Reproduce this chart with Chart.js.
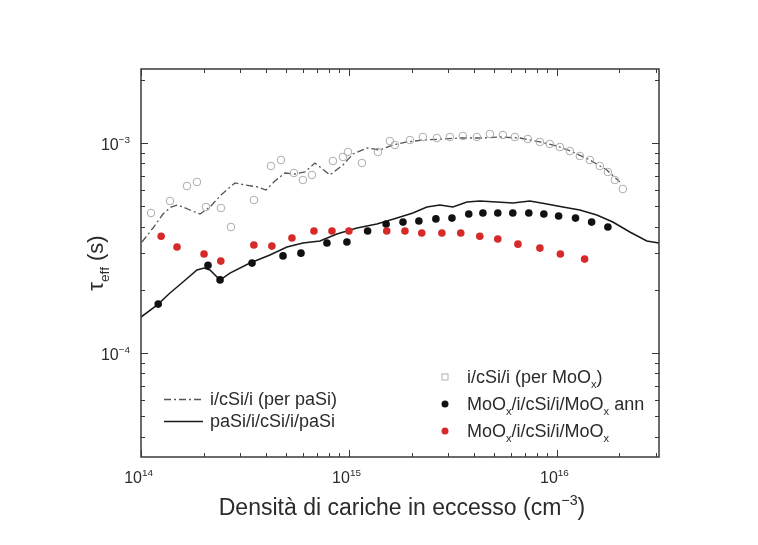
<!DOCTYPE html>
<html>
<head>
<meta charset="utf-8">
<script src="https://cdn.jsdelivr.net/npm/chart.js@4"></script>
<style>
  html, body { margin: 0; padding: 0; background: #fff; }
</style>
</head>
<body>
<canvas id="tauChart" width="758" height="545"></canvas>
<script>
// excess carrier density (cm^-3) and effective lifetime (s)
const xPaSi = [1.00e14, 1.194e14, 1.379e14, 1.592e14, 1.859e14, 2.009e14, 2.147e14, 2.398e14, 2.678e14, 3.342e14,
  4.171e14, 5.034e14, 6.009e14, 7.254e14, 8.756e14, 1.093e15, 1.363e15, 1.702e15, 2.031e15, 2.371e15,
  2.738e15, 3.162e15, 3.693e15, 4.264e15, 5.146e15, 6.145e15, 7.418e15, 8.954e15, 1.069e16, 1.290e16,
  1.557e16, 1.859e16, 2.244e16, 2.709e16, 3.094e16];
const tauPaSi = [1.484e-4, 1.692e-4, 1.931e-4, 2.179e-4, 2.485e-4, 2.540e-4, 2.485e-4, 2.227e-4, 2.404e-4, 2.683e-4,
  2.929e-4, 3.198e-4, 3.341e-4, 3.415e-4, 3.687e-4, 3.937e-4, 4.115e-4, 4.395e-4, 4.642e-4, 4.957e-4,
  5.068e-4, 4.957e-4, 5.236e-4, 5.294e-4, 5.236e-4, 5.179e-4, 5.294e-4, 5.122e-4, 4.957e-4, 4.797e-4,
  4.541e-4, 4.206e-4, 3.769e-4, 3.415e-4, 3.341e-4];

const xRefPaSi = [1.011e14, 1.142e14, 1.276e14, 1.394e14, 1.506e14, 1.720e14, 1.921e14, 2.147e14, 2.425e14, 2.831e14,
  3.162e14, 3.652e14, 3.990e14, 4.408e14, 4.924e14, 5.501e14, 6.145e14, 6.863e14, 8.102e14, 9.359e14,
  1.045e15, 1.221e15, 1.409e15, 1.628e15, 1.900e15, 2.269e15, 2.831e15, 3.418e15, 4.408e15, 5.321e15,
  6.640e15, 8.285e15, 1.000e16, 1.194e16, 1.441e16, 1.739e16, 2.009e16];
const tauRefPaSi = [3.378e-4, 3.937e-4, 4.591e-4, 4.957e-4, 5.068e-4, 4.797e-4, 4.591e-4, 4.957e-4, 5.654e-4, 6.450e-4,
  6.310e-4, 6.173e-4, 5.973e-4, 6.592e-4, 7.197e-4, 7.119e-4, 7.276e-4, 8.031e-4, 7.041e-4, 7.858e-4,
  8.863e-4, 9.467e-4, 9.262e-4, 9.783e-4, 1.011e-3, 1.033e-3, 1.045e-3, 1.056e-3, 1.056e-3, 1.068e-3,
  1.056e-3, 1.011e-3, 9.676e-4, 9.060e-4, 8.299e-4, 7.436e-4, 6.521e-4];

const xRefMoO = [1.117e14, 1.379e14, 1.664e14, 1.859e14, 2.054e14, 2.425e14, 2.708e14, 3.494e14, 4.217e14, 4.711e14,
  5.440e14, 6.009e14, 6.640e14, 8.377e14, 9.359e14, 9.890e14, 1.155e15, 1.379e15, 1.574e15, 1.664e15,
  1.965e15, 2.269e15, 2.649e15, 3.059e15, 3.533e15, 4.125e15, 4.764e15, 5.501e15, 6.284e15, 7.254e15,
  8.285e15, 9.254e15, 1.034e16, 1.155e16, 1.290e16, 1.441e16, 1.609e16, 1.759e16, 1.900e16, 2.077e16];
const tauRefMoO = [4.642e-4, 5.294e-4, 6.240e-4, 6.521e-4, 4.957e-4, 4.903e-4, 3.981e-4, 5.353e-4, 7.773e-4, 8.299e-4,
  7.197e-4, 6.664e-4, 7.041e-4, 8.209e-4, 8.577e-4, 9.060e-4, 8.031e-4, 9.060e-4, 1.022e-3, 9.783e-4,
  1.033e-3, 1.068e-3, 1.056e-3, 1.068e-3, 1.080e-3, 1.068e-3, 1.104e-3, 1.092e-3, 1.068e-3, 1.045e-3,
  1.011e-3, 9.890e-4, 9.572e-4, 9.160e-4, 8.672e-4, 8.299e-4, 7.773e-4, 7.276e-4, 6.664e-4, 6.039e-4];

const xMoOAnn = [1.21e14, 2.10e14, 2.40e14, 3.42e14, 4.82e14, 5.88e14, 7.84e14, 9.78e14, 1.23e15, 1.51e15,
  1.82e15, 2.17e15, 2.62e15, 3.13e15, 3.77e15, 4.41e15, 5.20e15, 6.14e15, 7.33e15, 8.66e15,
  1.02e16, 1.23e16, 1.47e16, 1.76e16];
const tauMoOAnn = [1.71e-4, 2.62e-4, 2.23e-4, 2.68e-4, 2.90e-4, 2.99e-4, 3.34e-4, 3.38e-4, 3.81e-4, 4.11e-4,
  4.20e-4, 4.25e-4, 4.35e-4, 4.39e-4, 4.59e-4, 4.64e-4, 4.64e-4, 4.64e-4, 4.64e-4, 4.59e-4,
  4.49e-4, 4.39e-4, 4.20e-4, 3.98e-4];

const xMoO = [1.25e14, 1.49e14, 2.01e14, 2.42e14, 3.49e14, 4.26e14, 5.32e14, 6.79e14, 8.29e14, 1.00e15,
  1.52e15, 1.86e15, 2.24e15, 2.80e15, 3.45e15, 4.26e15, 5.20e15, 6.50e15, 8.29e15, 1.04e16, 1.36e16];
const tauMoO = [3.60e-4, 3.20e-4, 2.96e-4, 2.74e-4, 3.27e-4, 3.23e-4, 3.53e-4, 3.81e-4, 3.81e-4, 3.81e-4,
  3.81e-4, 3.81e-4, 3.73e-4, 3.73e-4, 3.73e-4, 3.60e-4, 3.49e-4, 3.30e-4, 3.16e-4, 2.96e-4, 2.80e-4];

// axis decades that get a label
const xDecades = [14, 15, 16];
const yDecades = [-4, -3];

function pts(xs, ys) {
  return xs.map((x, i) => ({ x: x, y: ys[i] }));
}

const FONT = '"Liberation Sans", Arial, sans-serif';
const TXT = '#2b2b2b';

// text with sub/superscript pieces: [text, 'sub'|'sup'|undefined]
function richWidth(ctx, parts, size) {
  let w = 0;
  parts.forEach(p => {
    ctx.font = (p[1] ? size * 0.62 : size) + 'px ' + FONT;
    w += ctx.measureText(p[0]).width;
  });
  return w;
}

function drawRich(ctx, parts, x, y, size) {
  ctx.textBaseline = 'alphabetic';
  ctx.textAlign = 'left';
  parts.forEach(p => {
    let dy = 0;
    if (p[1] === 'sub') dy = size * 0.28;
    if (p[1] === 'sup') dy = -size * 0.45;
    ctx.font = (p[1] ? size * 0.62 : size) + 'px ' + FONT;
    ctx.fillText(p[0], x, y + dy);
    x += ctx.measureText(p[0]).width;
  });
}

const framePlugin = {
  id: 'frame',
  afterDraw(chart) {
    const ctx = chart.ctx;
    const a = chart.chartArea;
    const xs = chart.scales.x;
    const ys = chart.scales.y;
    ctx.save();
    ctx.fillStyle = TXT;
    ctx.strokeStyle = '#3a3a3a';

    // frame
    ctx.lineWidth = 1.5;
    ctx.strokeRect(a.left, a.top, a.right - a.left, a.bottom - a.top);

    // inward ticks on all four sides
    ctx.lineWidth = 1;
    ctx.beginPath();
    for (let d = 13; d <= 17; d++) {
      for (let m = 1; m <= 9; m++) {
        const v = m * Math.pow(10, d);
        if (v < xs.min || v > xs.max) continue;
        const px = Math.round(xs.getPixelForValue(v)) + 0.5;
        const len = m === 1 ? 7 : 4;
        ctx.moveTo(px, a.bottom); ctx.lineTo(px, a.bottom - len);
        ctx.moveTo(px, a.top); ctx.lineTo(px, a.top + len);
      }
    }
    for (let d = -6; d <= -2; d++) {
      for (let m = 1; m <= 9; m++) {
        const v = m * Math.pow(10, d);
        if (v < ys.min || v > ys.max) continue;
        const py = Math.round(ys.getPixelForValue(v)) + 0.5;
        const len = m === 1 ? 7 : 4;
        ctx.moveTo(a.left, py); ctx.lineTo(a.left + len, py);
        ctx.moveTo(a.right, py); ctx.lineTo(a.right - len, py);
      }
    }
    ctx.stroke();

    // tick labels
    xDecades.forEach(d => {
      const px = xs.getPixelForValue(Math.pow(10, d));
      ctx.font = '16px ' + FONT;
      const bw = ctx.measureText('10').width;
      drawRich(ctx, [['10'], [String(d), 'sup']], px - bw + 1, a.bottom + 26, 16);
    });
    yDecades.forEach(d => {
      const py = ys.getPixelForValue(Math.pow(10, d));
      const parts = [['10'], ['\u2212' + String(-d), 'sup']];
      const w = richWidth(ctx, parts, 16);
      drawRich(ctx, parts, a.left - 11 - w, py + 7, 16);
    });

    // x axis title
    const xt = [['Densit\u00e0 di cariche in eccesso (cm'], ['\u22123', 'sup'], [')']];
    const xw = richWidth(ctx, xt, 23);
    drawRich(ctx, xt, (a.left + a.right) / 2 - xw / 2 + 2, a.bottom + 58, 23);

    // y axis title
    ctx.save();
    ctx.translate(a.left - 38, (a.top + a.bottom) / 2);
    ctx.rotate(-Math.PI / 2);
    const yt = [['\u03c4'], ['eff', 'sub'], [' (s)']];
    const yw = richWidth(ctx, yt, 22);
    drawRich(ctx, yt, -yw / 2, 0, 22);
    ctx.restore();

    // left legend (lines)
    const lx = 164, lx2 = 203;
    ctx.strokeStyle = '#555';
    ctx.lineWidth = 1.3;
    ctx.setLineDash([7, 3, 2, 3]);
    ctx.beginPath(); ctx.moveTo(lx, 399.5); ctx.lineTo(lx2, 399.5); ctx.stroke();
    ctx.setLineDash([]);
    ctx.strokeStyle = '#1a1a1a';
    ctx.lineWidth = 1.5;
    ctx.beginPath(); ctx.moveTo(lx, 421.5); ctx.lineTo(lx2, 421.5); ctx.stroke();
    drawRich(ctx, [['i/cSi/i (per paSi)']], 210, 405, 18);
    drawRich(ctx, [['paSi/i/cSi/i/paSi']], 210, 427, 18);

    // right legend (markers)
    const mx = 445;
    const rows = [
      { y: 377, parts: [['i/cSi/i (per MoO'], ['x', 'sub'], [')']] },
      { y: 404, parts: [['MoO'], ['x', 'sub'], ['/i/cSi/i/MoO'], ['x', 'sub'], [' ann']] },
      { y: 431, parts: [['MoO'], ['x', 'sub'], ['/i/cSi/i/MoO'], ['x', 'sub']] }
    ];
    ctx.strokeStyle = '#b0b0b0';
    ctx.lineWidth = 1;
    ctx.strokeRect(mx - 3, rows[0].y - 3, 6, 6);
    ctx.fillStyle = '#111';
    ctx.beginPath(); ctx.arc(mx, rows[1].y, 3.5, 0, Math.PI * 2); ctx.fill();
    ctx.fillStyle = '#d62a2a';
    ctx.beginPath(); ctx.arc(mx, rows[2].y, 3.5, 0, Math.PI * 2); ctx.fill();
    ctx.fillStyle = TXT;
    rows.forEach(r => drawRich(ctx, r.parts, 467, r.y + 6, 18));

    ctx.restore();
  }
};

new Chart(document.getElementById('tauChart'), {
  type: 'scatter',
  data: {
    datasets: [
      {
        label: 'paSi/i/cSi/i/paSi',
        data: pts(xPaSi, tauPaSi),
        showLine: true,
        borderColor: '#1a1a1a',
        borderWidth: 1.5,
        pointRadius: 0,
        order: 4
      },
      {
        label: 'i/cSi/i (per paSi)',
        data: pts(xRefPaSi, tauRefPaSi),
        showLine: true,
        borderColor: '#555',
        borderWidth: 1.3,
        borderDash: [7, 3, 2, 3],
        pointRadius: 0,
        order: 3
      },
      {
        label: 'i/cSi/i (per MoOx)',
        data: pts(xRefMoO, tauRefMoO),
        pointStyle: 'circle',
        pointRadius: 3.8,
        borderWidth: 1,
        borderColor: '#ababab',
        backgroundColor: 'rgba(255,255,255,0)',
        order: 2
      },
      {
        label: 'MoOx/i/cSi/i/MoOx ann',
        data: pts(xMoOAnn, tauMoOAnn),
        pointRadius: 3.8,
        borderWidth: 0,
        backgroundColor: '#111',
        order: 1
      },
      {
        label: 'MoOx/i/cSi/i/MoOx',
        data: pts(xMoO, tauMoO),
        pointRadius: 3.8,
        borderWidth: 0,
        backgroundColor: '#d62a2a',
        order: 0
      }
    ]
  },
  options: {
    responsive: false,
    animation: false,
    layout: {
      padding: { left: 141, right: 99, top: 69, bottom: 88 }
    },
    plugins: {
      legend: { display: false },
      tooltip: { enabled: false }
    },
    scales: {
      x: { type: 'logarithmic', min: 1e14, max: 3.1e16, display: false },
      y: { type: 'logarithmic', min: 3.2e-5, max: 2.25e-3, display: false }
    }
  },
  plugins: [framePlugin]
});
</script>
</body>
</html>
